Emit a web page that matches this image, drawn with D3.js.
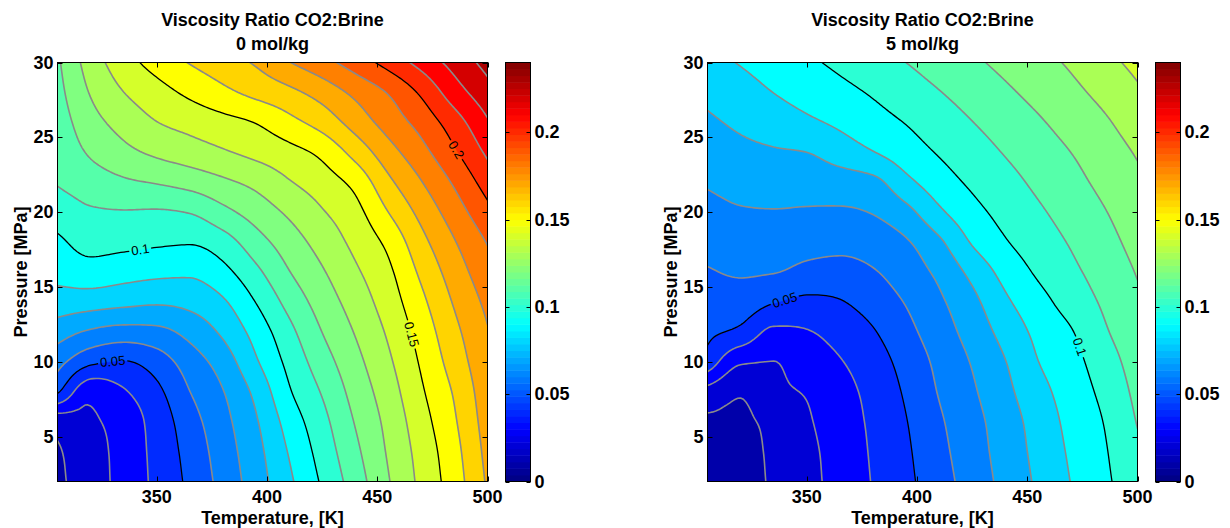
<!DOCTYPE html>
<html>
<head>
<meta charset="utf-8">
<script src="https://cdn.jsdelivr.net/npm/d3@7"></script>
<style>
  body { margin: 0; background: #fff; }
  svg { display: block; }
  text { font-family: "Liberation Sans", Arial, Helvetica, sans-serif; }
</style>
</head>
<body>
<svg id="chart" width="1230" height="528"></svg>
<script>
// Grid axes of the viscosity-ratio tables
const temperatures = [305, 320, 335, 350, 365, 380, 395, 410, 425, 440, 455, 470, 485, 500]; // K
const pressures = [2, 4, 6, 8, 10, 12, 14, 16, 18, 20, 22, 24, 26, 28, 30];                   // MPa

// Viscosity ratio CO2:brine, one row per pressure (low to high), one column per temperature
const viscosityRatio0 = [
  [0.0180, 0.0255, 0.0333, 0.0424, 0.0522, 0.0634, 0.0751, 0.0881, 0.1013, 0.1149, 0.1293, 0.1425, 0.1553, 0.1713],
  [0.0190, 0.0260, 0.0336, 0.0430, 0.0536, 0.0649, 0.0767, 0.0907, 0.1040, 0.1177, 0.1311, 0.1438, 0.1568, 0.1729],
  [0.0244, 0.0283, 0.0345, 0.0439, 0.0559, 0.0668, 0.0790, 0.0941, 0.1069, 0.1206, 0.1328, 0.1460, 0.1589, 0.1745],
  [0.0513, 0.0330, 0.0390, 0.0476, 0.0599, 0.0696, 0.0826, 0.0989, 0.1108, 0.1237, 0.1353, 0.1487, 0.1611, 0.1761],
  [0.0634, 0.0522, 0.0495, 0.0550, 0.0649, 0.0746, 0.0888, 0.1028, 0.1154, 0.1270, 0.1383, 0.1513, 0.1645, 0.1777],
  [0.0744, 0.0686, 0.0660, 0.0672, 0.0732, 0.0818, 0.0938, 0.1072, 0.1201, 0.1306, 0.1414, 0.1541, 0.1675, 0.1794],
  [0.0856, 0.0844, 0.0827, 0.0813, 0.0829, 0.0887, 0.1003, 0.1133, 0.1245, 0.1344, 0.1448, 0.1577, 0.1710, 0.1824],
  [0.0930, 0.0958, 0.0939, 0.0924, 0.0917, 0.0971, 0.1077, 0.1196, 0.1290, 0.1384, 0.1480, 0.1620, 0.1749, 0.1864],
  [0.0982, 0.1034, 0.1027, 0.1015, 0.1008, 0.1056, 0.1159, 0.1252, 0.1339, 0.1426, 0.1525, 0.1670, 0.1794, 0.1906],
  [0.1046, 0.1088, 0.1094, 0.1090, 0.1105, 0.1172, 0.1243, 0.1317, 0.1392, 0.1468, 0.1600, 0.1730, 0.1851, 0.1972],
  [0.1106, 0.1149, 0.1185, 0.1207, 0.1237, 0.1281, 0.1327, 0.1393, 0.1452, 0.1530, 0.1677, 0.1796, 0.1914, 0.2044],
  [0.1127, 0.1213, 0.1273, 0.1319, 0.1354, 0.1389, 0.1427, 0.1468, 0.1525, 0.1635, 0.1760, 0.1868, 0.1987, 0.2118],
  [0.1147, 0.1262, 0.1337, 0.1398, 0.1433, 0.1468, 0.1504, 0.1570, 0.1640, 0.1741, 0.1842, 0.1937, 0.2055, 0.2189],
  [0.1168, 0.1307, 0.1399, 0.1462, 0.1521, 0.1576, 0.1627, 0.1675, 0.1741, 0.1824, 0.1907, 0.2017, 0.2153, 0.2263],
  [0.1185, 0.1346, 0.1457, 0.1539, 0.1605, 0.1657, 0.1712, 0.1796, 0.1866, 0.1947, 0.2036, 0.2135, 0.2236, 0.2333]
];

const viscosityRatio5 = [
  [0.0120, 0.0157, 0.0214, 0.0271, 0.0335, 0.0405, 0.0477, 0.0559, 0.0644, 0.0730, 0.0817, 0.0903, 0.0982, 0.1060],
  [0.0125, 0.0160, 0.0219, 0.0276, 0.0340, 0.0411, 0.0485, 0.0572, 0.0656, 0.0741, 0.0829, 0.0915, 0.0991, 0.1083],
  [0.0181, 0.0186, 0.0226, 0.0288, 0.0351, 0.0418, 0.0496, 0.0586, 0.0667, 0.0751, 0.0842, 0.0929, 0.1004, 0.1105],
  [0.0265, 0.0207, 0.0278, 0.0308, 0.0365, 0.0430, 0.0513, 0.0606, 0.0686, 0.0774, 0.0867, 0.0946, 0.1026, 0.1125],
  [0.0458, 0.0313, 0.0299, 0.0351, 0.0394, 0.0454, 0.0536, 0.0624, 0.0707, 0.0797, 0.0899, 0.0966, 0.1054, 0.1145],
  [0.0519, 0.0476, 0.0379, 0.0394, 0.0435, 0.0492, 0.0571, 0.0653, 0.0739, 0.0835, 0.0926, 0.0994, 0.1088, 0.1165],
  [0.0556, 0.0553, 0.0506, 0.0478, 0.0494, 0.0542, 0.0606, 0.0683, 0.0773, 0.0882, 0.0966, 0.1042, 0.1115, 0.1185],
  [0.0593, 0.0610, 0.0604, 0.0573, 0.0563, 0.0592, 0.0649, 0.0722, 0.0828, 0.0934, 0.1015, 0.1079, 0.1142, 0.1206],
  [0.0632, 0.0651, 0.0650, 0.0637, 0.0630, 0.0647, 0.0690, 0.0782, 0.0909, 0.0992, 0.1052, 0.1109, 0.1168, 0.1231],
  [0.0671, 0.0691, 0.0695, 0.0690, 0.0688, 0.0705, 0.0769, 0.0881, 0.0968, 0.1032, 0.1086, 0.1140, 0.1195, 0.1256],
  [0.0709, 0.0733, 0.0742, 0.0743, 0.0751, 0.0773, 0.0873, 0.0954, 0.1017, 0.1068, 0.1120, 0.1171, 0.1225, 0.1281],
  [0.0747, 0.0774, 0.0790, 0.0800, 0.0847, 0.0896, 0.0953, 0.1008, 0.1057, 0.1106, 0.1153, 0.1201, 0.1253, 0.1309],
  [0.0784, 0.0818, 0.0850, 0.0882, 0.0918, 0.0961, 0.1004, 0.1051, 0.1098, 0.1144, 0.1189, 0.1238, 0.1287, 0.1348],
  [0.0825, 0.0861, 0.0901, 0.0937, 0.0972, 0.1010, 0.1053, 0.1096, 0.1140, 0.1184, 0.1229, 0.1276, 0.1328, 0.1386],
  [0.0868, 0.0906, 0.0944, 0.0982, 0.1021, 0.1060, 0.1100, 0.1142, 0.1183, 0.1225, 0.1269, 0.1314, 0.1372, 0.1425]
];

const contourLevels = d3.range(1, 25).map(i => +(i * 0.01).toFixed(2));
const majorLevels = [0.05, 0.1, 0.15, 0.2];
const xTicks = [350, 400, 450, 500];
const yTicks = [5, 10, 15, 20, 25, 30];
const colorbarTicks = [0, 0.05, 0.1, 0.15, 0.2];
const colorLimits = [0, 0.24];
const titleLine = "Viscosity Ratio CO2:Brine";
const subtitles = ["0 mol/kg", "5 mol/kg"];
// inline contour labels: level and the (T, P) spot where the label sits
const contourLabels0 = [
  { level: 0.05, T: 330, P: 10.3 },
  { level: 0.1, T: 342.5, P: 17.4 },
  { level: 0.15, T: 465, P: 11.8 },
  { level: 0.2, T: 486, P: 24.2 }
];
const contourLabels5 = [
  { level: 0.05, T: 340, P: 14.1 },
  { level: 0.1, T: 476, P: 11.1 }
];

// ---------- helpers ----------
function jet(t) {
  t = Math.max(0, Math.min(1, t));
  const c = v => Math.round(255 * Math.max(0, Math.min(1, v)));
  return `rgb(${c(1.5 - Math.abs(4 * t - 3))},${c(1.5 - Math.abs(4 * t - 2))},${c(1.5 - Math.abs(4 * t - 1))})`;
}
const levelColor = v => jet((v - colorLimits[0]) / (colorLimits[1] - colorLimits[0]));

// monotone (Steffen) cubic resampling of a uniformly spaced series
function tangents(y) {
  const n = y.length, d = [], m = new Array(n);
  for (let i = 0; i < n - 1; i++) d.push(y[i + 1] - y[i]);
  m[0] = d[0]; m[n - 1] = d[n - 2];
  for (let i = 1; i < n - 1; i++) {
    const a = d[i - 1], b = d[i], p = (a + b) / 2;
    m[i] = (Math.sign(a) + Math.sign(b)) * Math.min(Math.abs(a), Math.abs(b), 0.5 * Math.abs(p));
  }
  return m;
}
function resample(y, k) {
  const m = tangents(y), out = [];
  for (let i = 0; i < y.length - 1; i++) {
    for (let s = 0; s < k; s++) {
      const t = s / k, t2 = t * t, t3 = t2 * t;
      out.push((2 * t3 - 3 * t2 + 1) * y[i] + (t3 - 2 * t2 + t) * m[i] +
               (-2 * t3 + 3 * t2) * y[i + 1] + (t3 - t2) * m[i + 1]);
    }
  }
  out.push(y[y.length - 1]);
  return out;
}
function refine(grid, k) {
  const rows = grid.map(r => resample(r, k));
  const nx = rows[0].length;
  const cols = d3.range(nx).map(i => resample(rows.map(r => r[i]), k));
  const ny = cols[0].length;
  const values = new Float64Array(nx * ny);
  for (let j = 0; j < ny; j++) for (let i = 0; i < nx; i++) values[j * nx + i] = cols[i][j];
  return { nx, ny, values };
}

// ---------- layout ----------
const W = 1230, H = 528;
const plotTop = 62.5, plotBottom = 481.5, plotWidth = 430;
const panels = [
  { left: 57.5, grid: viscosityRatio0, subtitle: subtitles[0], labels: contourLabels0, cbLeft: 505.5 },
  { left: 707.5, grid: viscosityRatio5, subtitle: subtitles[1], labels: contourLabels5, cbLeft: 1155.5 }
];
const fontSize = 18;

const svg = d3.select("#chart");
const defs = svg.append("defs");

panels.forEach((p, k) => {
  const x = d3.scaleLinear().domain([temperatures[0], temperatures[temperatures.length - 1]])
    .range([p.left, p.left + plotWidth]);
  const y = d3.scaleLinear().domain([pressures[0], pressures[pressures.length - 1]])
    .range([plotBottom, plotTop]);

  // smooth field and filled contours
  const f = refine(p.grid, 12);
  const dT = (x.domain()[1] - x.domain()[0]) / (f.nx - 1);
  const dP = (y.domain()[1] - y.domain()[0]) / (f.ny - 1);
  const toT = c => x.domain()[0] + (c - 0.5) * dT;
  const toP = c => y.domain()[0] + (c - 0.5) * dP;
  const projection = d3.geoTransform({
    point(px, py) { this.stream.point(x(toT(px)), y(toP(py))); }
  });
  const path = d3.geoPath(projection);
  const contours = d3.contours().size([f.nx, f.ny]).thresholds(contourLevels)(f.values)
    .filter(c => c.coordinates.length > 0);

  defs.append("clipPath").attr("id", `plot-clip-${k}`)
    .append("rect").attr("x", p.left).attr("y", plotTop)
    .attr("width", plotWidth).attr("height", plotBottom - plotTop);

  const fills = svg.append("g").attr("clip-path", `url(#plot-clip-${k})`);
  fills.append("rect").attr("x", p.left).attr("y", plotTop)
    .attr("width", plotWidth).attr("height", plotBottom - plotTop)
    .attr("fill", levelColor(0));
  fills.selectAll("path").data(contours).join("path")
    .attr("d", path)
    .attr("fill", d => levelColor(d.value))
    .attr("fill-rule", "evenodd")
    .attr("stroke", d => levelColor(d.value))
    .attr("stroke-width", 0.4);

  // label placement on the contour line nearest to the requested spot
  const mask = defs.append("mask").attr("id", `label-gap-${k}`)
    .attr("maskUnits", "userSpaceOnUse")
    .attr("x", 0).attr("y", 0).attr("width", W).attr("height", H);
  mask.append("rect").attr("width", W).attr("height", H).attr("fill", "white");

  const lines = svg.append("g").attr("clip-path", `url(#plot-clip-${k})`)
    .append("g").attr("mask", `url(#label-gap-${k})`);
  const isMajor = v => majorLevels.some(m => Math.abs(m - v) < 1e-9);
  lines.selectAll("path").data(contours).join("path")
    .attr("d", path)
    .attr("fill", "none")
    .attr("stroke", d => isMajor(d.value) ? "#000" : "#8a8a8a")
    .attr("stroke-width", d => isMajor(d.value) ? 1.3 : 1.6)
    .attr("stroke-linejoin", "round");

  const labelGroup = svg.append("g");
  p.labels.forEach(lab => {
    const c = contours.find(cc => Math.abs(cc.value - lab.level) < 1e-9);
    if (!c) return;
    const tx = x(lab.T), ty = y(lab.P);
    let best = null;
    c.coordinates.forEach(poly => poly.forEach(ring => {
      const pts = ring.map(([cx, cy]) => ({
        edge: cx <= 0.001 || cy <= 0.001 || cx >= f.nx - 0.001 || cy >= f.ny - 0.001,
        X: x(toT(cx)), Y: y(toP(cy))
      }));
      pts.forEach((pt, i) => {
        if (pt.edge) return;
        const d2 = (pt.X - tx) ** 2 + (pt.Y - ty) ** 2;
        if (!best || d2 < best.d2) best = { d2, pts, i };
      });
    }));
    if (!best) return;
    const n = best.pts.length;
    const a = best.pts[(best.i - 3 + n) % n], b = best.pts[(best.i + 3) % n];
    let ang = Math.atan2(b.Y - a.Y, b.X - a.X) * 180 / Math.PI;
    if (ang > 90) ang -= 180;
    if (ang <= -90) ang += 180;
    const px = best.pts[best.i].X, py = best.pts[best.i].Y;
    const t = labelGroup.append("text")
      .attr("transform", `translate(${px},${py}) rotate(${ang})`)
      .attr("text-anchor", "middle")
      .attr("dominant-baseline", "central")
      .attr("font-size", 13)
      .attr("fill", "#000")
      .text(String(lab.level));
    const w = t.node().getComputedTextLength() + 4;
    mask.append("rect")
      .attr("transform", `translate(${px},${py}) rotate(${ang})`)
      .attr("x", -w / 2).attr("y", -7).attr("width", w).attr("height", 14)
      .attr("fill", "black");
  });

  // axes frame and inward ticks
  const axes = svg.append("g");
  axes.append("rect").attr("x", p.left).attr("y", plotTop)
    .attr("width", plotWidth).attr("height", plotBottom - plotTop)
    .attr("fill", "none").attr("stroke", "#000").attr("stroke-width", 1);
  const tl = 5;
  xTicks.forEach(v => {
    const xv = Math.round(x(v)) + 0.5;
    axes.append("line").attr("x1", xv).attr("x2", xv).attr("y1", plotBottom).attr("y2", plotBottom - tl).attr("stroke", "#000");
    axes.append("line").attr("x1", xv).attr("x2", xv).attr("y1", plotTop).attr("y2", plotTop + tl).attr("stroke", "#000");
    axes.append("text").attr("x", x(v)).attr("y", 503)
      .attr("text-anchor", "middle").attr("font-size", fontSize).attr("font-weight", "bold")
      .text(v);
  });
  yTicks.forEach(v => {
    const yv = Math.round(y(v)) + 0.5;
    axes.append("line").attr("x1", p.left).attr("x2", p.left + tl).attr("y1", yv).attr("y2", yv).attr("stroke", "#000");
    axes.append("line").attr("x1", p.left + plotWidth).attr("x2", p.left + plotWidth - tl).attr("y1", yv).attr("y2", yv).attr("stroke", "#000");
    axes.append("text").attr("x", p.left - 4).attr("y", y(v))
      .attr("text-anchor", "end").attr("dominant-baseline", "central")
      .attr("font-size", fontSize).attr("font-weight", "bold")
      .text(v);
  });

  // titles and axis labels
  const cx = p.left + plotWidth / 2;
  svg.append("text").attr("x", cx).attr("y", 26).attr("text-anchor", "middle")
    .attr("font-size", fontSize).attr("font-weight", "bold").text(titleLine);
  svg.append("text").attr("x", cx).attr("y", 50).attr("text-anchor", "middle")
    .attr("font-size", fontSize).attr("font-weight", "bold").text(p.subtitle);
  svg.append("text").attr("x", cx).attr("y", 524).attr("text-anchor", "middle")
    .attr("font-size", fontSize).attr("font-weight", "bold").text("Temperature, [K]");
  svg.append("text")
    .attr("transform", `translate(${p.left - 31},${(plotTop + plotBottom) / 2}) rotate(-90)`)
    .attr("text-anchor", "middle")
    .attr("font-size", fontSize).attr("font-weight", "bold").text("Pressure [MPa]");

  // colorbar
  const cb = d3.scaleLinear().domain(colorLimits).range([plotBottom, plotTop]);
  const cbW = 25;
  const steps = 64;
  const cbg = svg.append("g");
  d3.range(steps).forEach(i => {
    const v0 = colorLimits[0] + (colorLimits[1] - colorLimits[0]) * i / steps;
    const v1 = colorLimits[0] + (colorLimits[1] - colorLimits[0]) * (i + 1) / steps;
    cbg.append("rect").attr("x", p.cbLeft).attr("y", cb(v1))
      .attr("width", cbW).attr("height", cb(v0) - cb(v1) + 0.5)
      .attr("fill", jet((i + 0.5) / steps));
  });
  cbg.append("rect").attr("x", p.cbLeft).attr("y", plotTop)
    .attr("width", cbW).attr("height", plotBottom - plotTop)
    .attr("fill", "none").attr("stroke", "#000");
  colorbarTicks.forEach(v => {
    const yv = Math.round(cb(v)) + 0.5;
    cbg.append("line").attr("x1", p.cbLeft).attr("x2", p.cbLeft + 4).attr("y1", yv).attr("y2", yv).attr("stroke", "#000");
    cbg.append("line").attr("x1", p.cbLeft + cbW).attr("x2", p.cbLeft + cbW - 4).attr("y1", yv).attr("y2", yv).attr("stroke", "#000");
    cbg.append("text").attr("x", p.cbLeft + cbW + 4).attr("y", cb(v))
      .attr("dominant-baseline", "central")
      .attr("font-size", fontSize).attr("font-weight", "bold")
      .text(String(v));
  });
});
</script>
</body>
</html>
